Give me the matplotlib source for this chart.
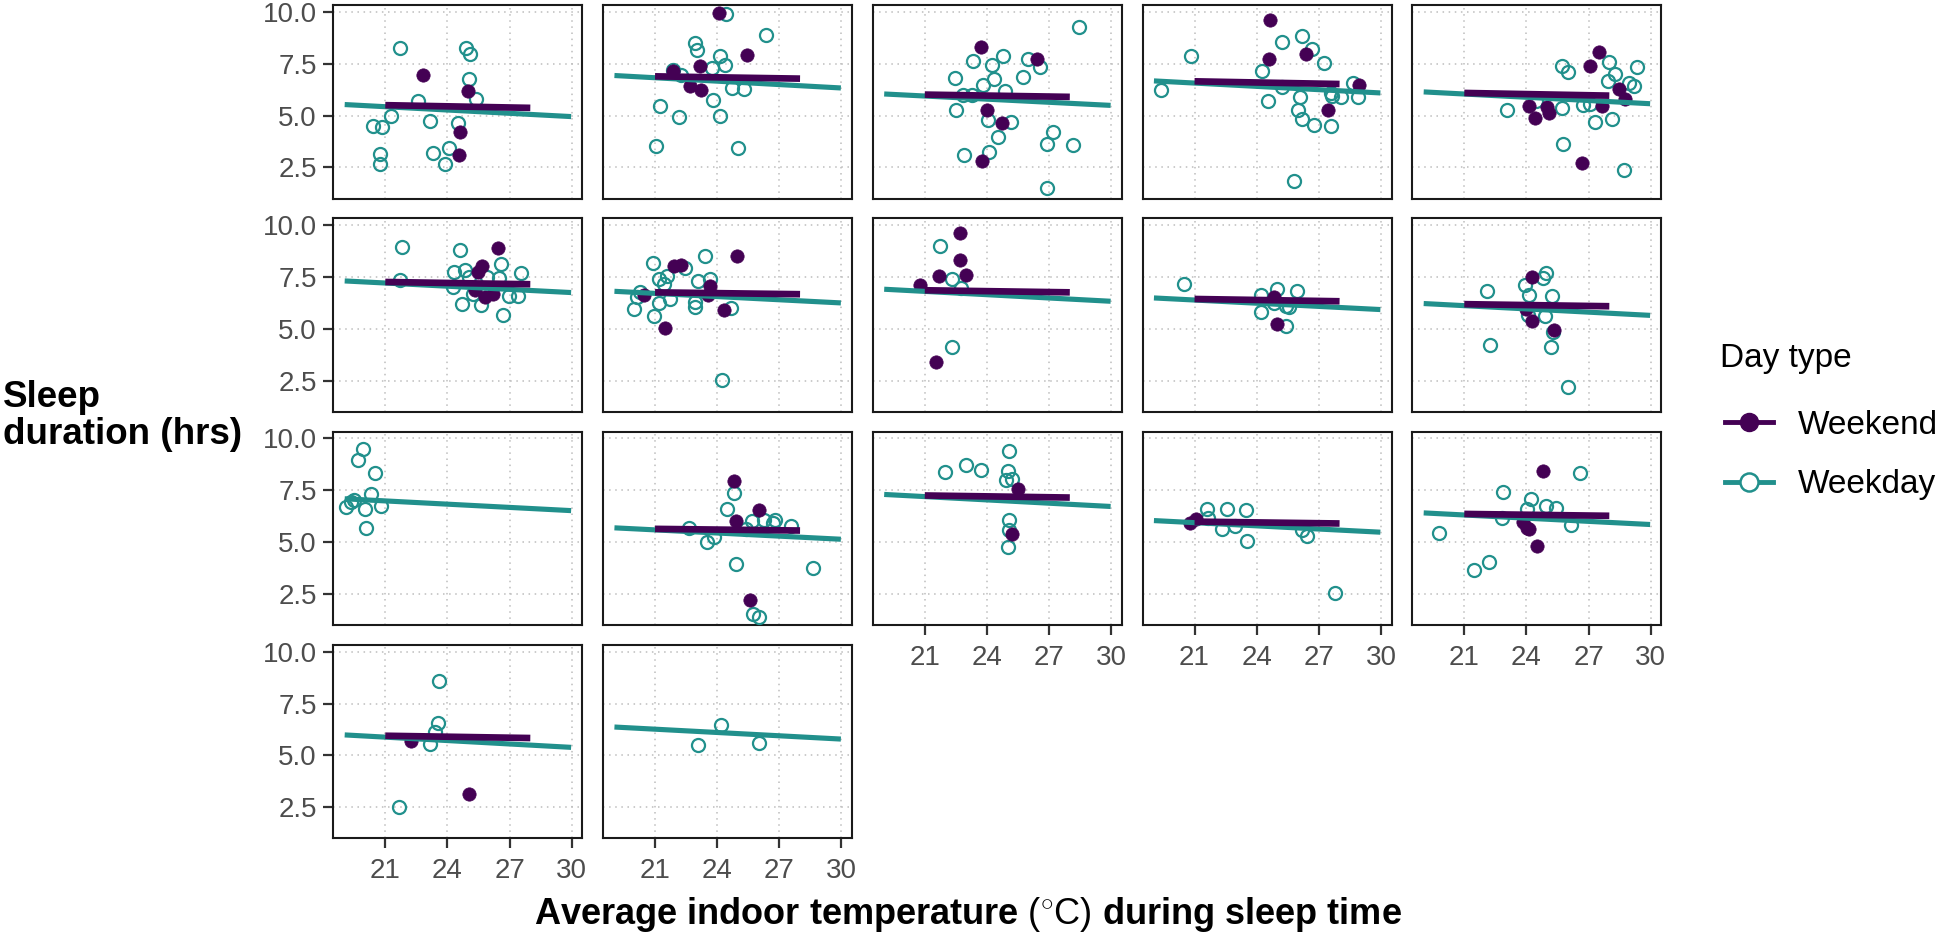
import numpy as np
import matplotlib
matplotlib.use("Agg")
import matplotlib.pyplot as plt
from matplotlib.lines import Line2D

plt.rcParams['font.family'] = ['Liberation Sans', 'DejaVu Sans']
plt.rcParams['mathtext.fontset'] = 'custom'
plt.rcParams['mathtext.rm'] = 'Liberation Sans'

############### DATA ###############

# one list per facet panel (row-major, 17 participants)
weekday_temp = [
    [21.71, 24.90, 25.09, 25.03, 25.38, 22.56, 21.26, 23.16, 20.39, 20.84, 24.53, 20.74, 20.74, 23.29, 24.09, 23.90],
    [24.41, 26.37, 22.93, 23.03, 24.13, 24.39, 23.76, 21.86, 22.24, 24.70, 25.31, 23.81, 21.22, 22.15, 24.15, 21.05, 25.01],
    [28.46, 23.32, 24.77, 24.24, 25.99, 26.56, 22.46, 24.32, 23.81, 24.87, 22.86, 23.29, 25.75, 22.52, 24.03, 25.18,
     27.17, 26.91, 28.16, 24.55, 24.10, 22.88, 26.91],
    [20.85, 19.36, 25.22, 26.17, 26.68, 27.25, 24.24, 25.22, 26.10, 27.60, 28.06, 28.87, 28.63, 24.53, 26.01, 26.18,
     26.77, 27.60, 25.82, 27.65],
    [25.70, 26.02, 28.00, 28.28, 27.96, 29.33, 28.97, 29.21, 23.05, 24.46, 25.73, 26.72, 27.33, 28.12, 25.78, 28.73, 27.07],
    [21.81, 21.69, 24.62, 24.32, 24.84, 25.05, 25.91, 26.60, 27.54, 26.48, 24.70, 25.62, 26.68, 26.99, 27.42, 25.22, 24.27],
    [20.88, 23.41, 22.46, 21.17, 21.60, 21.43, 23.07, 23.63, 20.26, 20.14, 19.97, 20.95, 21.21, 21.72, 22.95, 22.95,
     24.65, 24.24],
    [21.71, 22.29, 22.74, 22.29],
    [20.50, 24.96, 25.96, 24.20, 25.41, 25.58, 24.20, 24.84, 25.41],
    [24.94, 24.82, 23.91, 24.13, 22.10, 25.24, 24.89, 24.08, 25.29, 22.22, 25.17, 26.03],
    [19.93, 19.66, 20.52, 20.31, 19.48, 19.10, 20.00, 20.78, 20.05, 19.33],
    [24.83, 24.45, 22.64, 23.50, 23.84, 24.93, 25.66, 26.26, 26.78, 26.69, 27.55, 28.62, 25.71, 26.00, 25.40],
    [25.08, 21.96, 23.00, 23.69, 25.00, 24.93, 25.22, 25.05, 25.05, 25.01],
    [21.62, 22.57, 23.46, 21.65, 22.31, 22.95, 23.51, 26.21, 26.42, 27.80],
    [26.58, 22.88, 24.20, 24.94, 25.41, 24.01, 22.82, 26.15, 19.78, 22.17, 21.48],
    [23.61, 23.56, 23.40, 23.16, 21.66],
    [24.16, 23.07, 26.00],
]
weekday_sleep = [
    [8.26, 8.26, 7.99, 6.76, 5.80, 5.69, 4.96, 4.72, 4.51, 4.45, 4.64, 3.16, 2.66, 3.19, 3.43, 2.68],
    [9.92, 8.87, 8.50, 8.15, 7.89, 7.46, 7.30, 7.22, 6.97, 6.33, 6.28, 5.77, 5.48, 4.91, 4.96, 3.55, 3.43],
    [9.28, 7.65, 7.89, 7.42, 7.75, 7.34, 6.81, 6.76, 6.49, 6.17, 6.01, 6.01, 6.86, 5.25, 4.77, 4.67,
     4.19, 3.64, 3.59, 3.95, 3.24, 3.08, 1.50],
    [7.89, 6.22, 8.55, 8.83, 8.21, 7.51, 7.14, 6.38, 5.88, 6.09, 5.90, 5.90, 6.57, 5.69, 5.28, 4.85,
     4.56, 4.51, 1.86, 5.93],
    [7.38, 7.10, 7.59, 7.02, 6.65, 7.33, 6.57, 6.44, 5.28, 5.69, 5.36, 5.53, 4.67, 4.85, 3.63, 2.39, 5.57],
    [8.95, 7.34, 8.82, 7.75, 7.83, 7.51, 7.51, 8.15, 7.67, 7.47, 6.22, 6.14, 5.69, 6.57, 6.57, 6.70, 7.02],
    [8.18, 8.50, 7.91, 7.42, 7.54, 7.18, 7.30, 7.42, 6.78, 6.54, 5.94, 5.62, 6.27, 6.46, 6.30, 6.06,
     6.02, 2.55],
    [8.99, 7.38, 6.99, 4.13],
    [7.15, 6.94, 6.83, 6.62, 6.09, 6.06, 5.82, 6.25, 5.12],
    [7.70, 7.47, 7.10, 6.62, 6.83, 6.57, 5.61, 5.65, 4.85, 4.24, 4.13, 2.19],
    [9.47, 8.94, 8.34, 7.30, 7.05, 6.69, 6.59, 6.72, 5.69, 6.92],
    [7.39, 6.59, 5.69, 5.02, 5.26, 3.93, 6.02, 6.09, 6.06, 5.94, 5.76, 3.73, 1.53, 1.40, 5.64],
    [9.40, 8.36, 8.74, 8.48, 8.43, 8.02, 8.05, 6.06, 5.58, 4.77],
    [6.60, 6.60, 6.57, 6.17, 5.61, 5.80, 5.05, 5.58, 5.29, 2.56],
    [8.31, 7.41, 7.09, 6.73, 6.65, 6.60, 6.17, 5.85, 5.45, 4.03, 3.64],
    [8.59, 6.58, 6.15, 5.55, 2.53],
    [6.49, 5.51, 5.59],
]
weekend_temp = [
    [22.84, 25.01, 24.61, 24.56],
    [24.07, 23.15, 21.86, 22.67, 23.24, 25.44],
    [23.69, 26.41, 24.01, 24.75, 23.76],
    [24.62, 24.58, 26.36, 28.94, 27.42],
    [27.52, 27.09, 28.49, 28.76, 27.63, 24.11, 24.41, 25.01, 25.11, 26.70],
    [26.46, 25.68, 25.48, 25.82, 26.20, 25.31],
    [21.90, 22.26, 24.94, 20.48, 23.67, 23.55, 24.32, 21.46],
    [22.69, 22.69, 21.67, 23.00, 20.79, 21.52],
    [24.84, 24.96],
    [24.25, 24.25, 25.32, 24.00],
    [],
    [24.79, 26.00, 24.91, 25.57],
    [25.48, 25.22],
    [20.79, 21.09],
    [24.82, 24.01, 24.10, 24.49, 23.82],
    [22.22, 25.06],
    [],
]
weekend_sleep = [
    [6.94, 6.17, 4.21, 3.10],
    [9.95, 7.38, 7.14, 6.44, 6.22, 7.94],
    [8.29, 7.73, 5.28, 4.62, 2.79],
    [9.63, 7.75, 7.97, 6.49, 5.28],
    [8.05, 7.38, 6.30, 5.80, 5.48, 5.48, 4.88, 5.41, 5.12, 2.71],
    [8.92, 8.04, 7.75, 6.54, 6.70, 6.86],
    [8.02, 8.07, 8.50, 6.62, 7.05, 6.62, 5.90, 5.06],
    [9.60, 8.31, 7.54, 7.59, 7.10, 3.40],
    [6.54, 5.22],
    [7.51, 5.38, 4.96, 5.98],
    [],
    [7.97, 6.56, 6.02, 2.20],
    [7.58, 5.37],
    [5.93, 6.12],
    [8.44, 5.69, 5.61, 4.80, 5.96],
    [5.71, 3.13],
    [],
]

# fitted lines: end points per panel
weekday_fit_x = [19.04, 29.97]
weekend_fit_x = [21.0, 28.0]
weekday_fit_start = [5.53, 6.93, 6.04, 6.67, 6.14, 7.31, 6.81, 6.91, 6.49, 6.22, 7.09, 5.69, 7.30, 6.04, 6.41, 5.99, 6.37]
weekday_fit_end = [4.95, 6.33, 5.49, 6.09, 5.57, 6.75, 6.25, 6.33, 5.93, 5.65, 6.52, 5.14, 6.72, 5.48, 5.85, 5.39, 5.79]
weekend_fit_start = [5.50, 6.89, 6.01, 6.65, 6.09, 7.26, 6.76, 6.86, 6.44, 6.19, np.nan, 5.64, 7.25, 5.99, 6.36, 5.95, np.nan]
weekend_fit_end = [5.37, 6.78, 5.90, 6.52, 5.96, 7.15, 6.67, 6.76, 6.33, 6.09, np.nan, 5.56, 7.15, 5.90, 6.27, 5.84, np.nan]

x_ticks = [21, 24, 27, 30]
y_ticks = [2.5, 5.0, 7.5, 10.0]
y_tick_labels = ['2.5', '5.0', '7.5', '10.0']

PURPLE = '#440154'
TEAL = '#21908C'

############### LAYOUT ###############

W, H = 1944, 942
ncol = 5
panel_w, panel_h = 249, 193.5
left0, top0 = 333.3, 5
step_x, step_y = 269.75, 213.3

fig = plt.figure(figsize=(W / 100, H / 100), dpi=100)

n_panels = len(weekday_temp)
for i in range(n_panels):
    r, c = divmod(i, ncol)
    left = left0 + c * step_x
    top = top0 + r * step_y
    ax = fig.add_axes([left / W, 1 - (top + panel_h) / H, panel_w / W, panel_h / H])

    ax.plot(weekday_temp[i], weekday_sleep[i], 'o', ls='none', ms=9.4, mfc='none',
            mec=TEAL, mew=1.6, zorder=3)
    ax.plot(weekend_temp[i], weekend_sleep[i], 'o', ls='none', ms=9.6, mfc=PURPLE,
            mec=PURPLE, mew=0.5, zorder=4)
    ax.plot(weekday_fit_x, [weekday_fit_start[i], weekday_fit_end[i]], color=TEAL,
            lw=3.7, solid_capstyle='butt', zorder=5)
    ax.plot(weekend_fit_x, [weekend_fit_start[i], weekend_fit_end[i]], color=PURPLE,
            lw=4.8, solid_capstyle='butt', zorder=6)

    ax.set_xlim(18.49, 30.51)
    ax.set_ylim(1.0, 10.33)
    ax.set_xticks(x_ticks)
    ax.set_yticks(y_ticks)
    ax.grid(True, color='#BDBDBD', ls=(0, (1, 3)), lw=1.1, zorder=0)
    ax.set_axisbelow(True)
    for sp in ax.spines.values():
        sp.set_color('#1A1A1A')
        sp.set_linewidth(1.5)

    show_y = c == 0
    show_x = i + ncol >= n_panels
    ax.tick_params(axis='both', colors='#333333', labelcolor='#4D4D4D',
                   labelsize=20, length=7, width=1.6, pad=5)
    ax.tick_params(axis='x', pad=7)
    ax.tick_params(axis='y', left=show_y, labelleft=show_y)
    ax.tick_params(axis='x', bottom=show_x, labelbottom=show_x)
    if show_y:
        ax.set_yticklabels(y_tick_labels)

fig.text(3 / W, 1 - 416 / H, 'Sleep\nduration (hrs)', ha='left', va='center',
         fontsize=26.5, fontweight='bold', linespacing=1.05)
fig.text(968 / W, 1 - 915 / H,
         r'Average indoor temperature $(^{\circ}\mathrm{C})$ during sleep time',
         ha='center', va='center', fontsize=26, fontweight='bold')

# legend
fig.text(1720 / W, 1 - 358 / H, 'Day type', ha='left', va='center', fontsize=24)
handles = [
    Line2D([], [], color=PURPLE, lw=3.5, marker='o', ms=13, mfc=PURPLE, mec=PURPLE),
    Line2D([], [], color=TEAL, lw=3.5, marker='o', ms=13, mfc='white', mec=TEAL, mew=1.8),
]
fig.legend(handles, ['Weekend', 'Weekday'], loc='center left',
           bbox_to_anchor=(1725 / W, 1 - 455 / H), frameon=False, fontsize=24,
           handlelength=1.45, handletextpad=0.75,
           labelspacing=0.87, borderpad=0, borderaxespad=0)

fig.savefig('out.png', dpi=100)
